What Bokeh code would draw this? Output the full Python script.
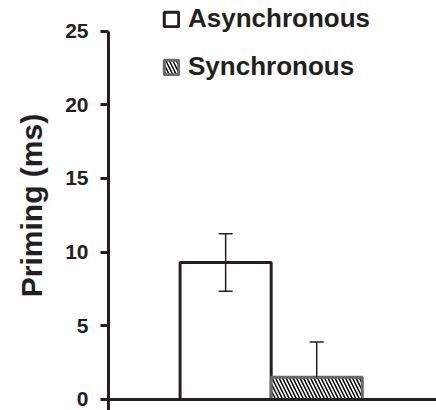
import numpy as np
from bokeh.plotting import figure
from bokeh.models import Range1d, FixedTicker, Span, Legend, LegendItem, ColumnDataSource
from bokeh.embed import file_html
from bokeh.resources import INLINE

# ---- data ----
conditions = ["Asynchronous", "Synchronous"]
priming = [9.3, 1.5]
errors = [1.95, 2.4]
y_ticks = [0, 5, 10, 15, 20, 25]

FONT = "Liberation Sans"
INK = "#231f20"

x = np.arange(len(conditions))
mean = np.array(priming)
err = np.array(errors)
upper = mean + err
lower_raw = mean - err
lower = np.where(lower_raw > 0, lower_raw, mean)
has_low = lower_raw > 0

src = ColumnDataSource(dict(
    x=x, top=mean, cond=conditions,
    line_color=[INK, "#6a6a6a"],
    hatch=[" ", "\\"],
))

p = figure(width=436, height=410, output_backend="svg", toolbar_location=None,
           x_range=Range1d(-1.286, 2.315), y_range=Range1d(-0.75, 27.08))
p.min_border_left = 108
p.min_border_right = 0
p.min_border_top = 0
p.min_border_bottom = 0
p.outline_line_color = None
p.grid.visible = False
p.xaxis.visible = False
p.background_fill_color = "white"

bars = p.vbar(x="x", top="top", width=1.0, bottom=0, source=src,
              fill_color="white", line_color="line_color", line_width=3,
              hatch_pattern="hatch", hatch_color="black",
              hatch_scale=7, hatch_weight=1.5)

# error bars
p.segment(x0=x, y0=lower, x1=x, y1=upper, line_color=INK, line_width=1.5)
p.dash(x=x, y=upper, size=14, line_color=INK, line_width=1.5)
p.dash(x=x[has_low], y=lower[has_low], size=14, line_color=INK, line_width=1.5)

# baseline
p.add_layout(Span(location=0, dimension="width", line_color=INK, line_width=3))

ax = p.yaxis[0]
ax.ticker = FixedTicker(ticks=y_ticks)
ax.bounds = (-0.75, y_ticks[-1])
ax.minor_tick_line_color = None
ax.axis_line_width = 3
ax.axis_line_color = INK
ax.major_tick_line_width = 3
ax.major_tick_line_color = INK
ax.major_tick_out = 8
ax.major_tick_in = 0
ax.major_label_text_font = FONT
ax.major_label_text_font_style = "bold"
ax.major_label_text_font_size = "21px"
ax.major_label_text_color = INK
ax.major_label_standoff = 12
ax.axis_label = "Priming (ms)"
ax.axis_label_text_font = FONT
ax.axis_label_text_font_style = "bold"
ax.axis_label_text_font_size = "30px"
ax.axis_label_text_color = INK
ax.axis_label_standoff = 14

# legend: one item per bar
items = [LegendItem(label=c, renderers=[bars], index=i) for i, c in enumerate(conditions)]
legend = Legend(items=items, location=(54, 328), orientation="vertical")
legend.glyph_width = 18
legend.glyph_height = 18
legend.label_height = 26
legend.label_standoff = 8
legend.spacing = 17
legend.padding = 0
legend.margin = 0
legend.border_line_color = None
legend.background_fill_alpha = 0
legend.label_text_font = FONT
legend.label_text_font_style = "bold"
legend.label_text_font_size = "26px"
legend.label_text_color = INK
p.add_layout(legend, "center")

open("out.html", "w").write(file_html(p, INLINE))
